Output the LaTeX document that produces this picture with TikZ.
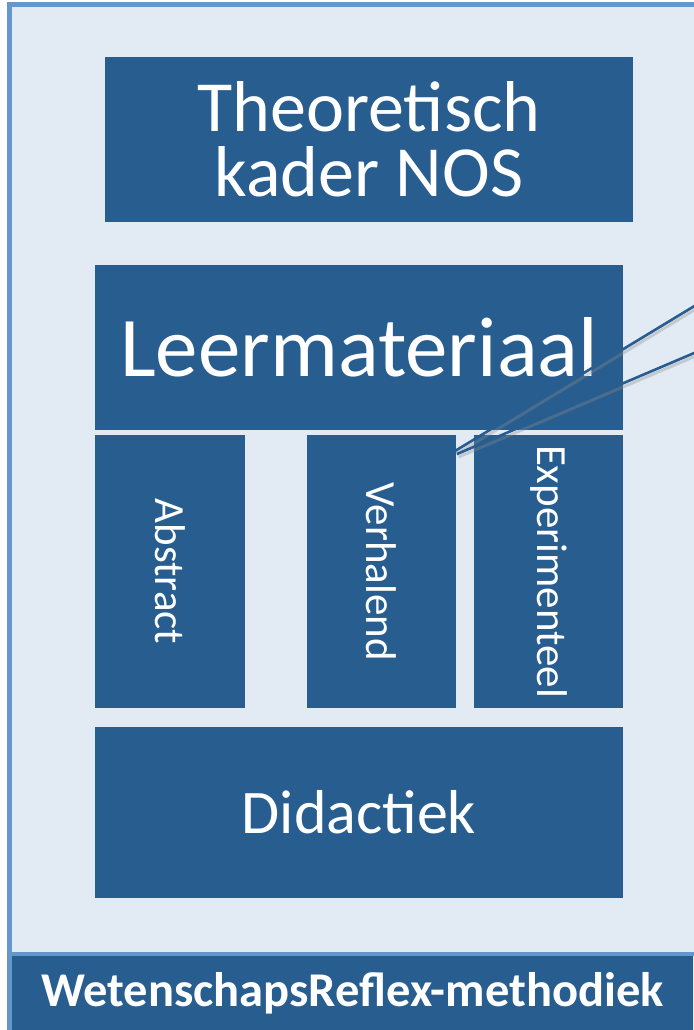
\documentclass[tikz,border=0pt]{standalone}
\usepackage{fontspec}
\setmainfont{Carlito}
\definecolor{boxblue}{HTML}{285D90}
\definecolor{bgblue}{HTML}{E2EAF4}
\definecolor{rimblue}{HTML}{6498CC}
\tikzset{
  blok/.style={fill=boxblue, draw=none, inner sep=0pt, text=white, align=center},
  lijn/.style={draw=boxblue, line width=2.6pt},
  schaduw/.style={draw=black!45, line width=3pt, opacity=0.35},
}
\begin{document}
\begin{tikzpicture}[x=1pt,y=-1pt]
\useasboundingbox (0,0) rectangle (693,1030);
% background frame
\fill[white] (0,0) rectangle (693,1030);
\fill[bgblue] (7,2) rectangle (700,1040);
\draw[rimblue, line width=5pt] (9.5,1040) -- (9.5,4.5) -- (700,4.5);
% boxes
\node[blok, minimum width=528pt, minimum height=165pt, font=\fontsize{72}{67}\selectfont] (theo) at (369,139.5) {Theoretisch\\[-2pt]kader NOS};
\node[blok, minimum width=528pt, minimum height=165pt, font=\fontsize{85}{90}\selectfont] (leer) at (359,347.5) {Leermateriaal};
\node[blok, rotate=-90, minimum width=273pt, minimum height=150pt, font=\fontsize{43}{48}\selectfont] (abs) at (170,571.5) {Abstract};
\node[blok, rotate=-90, minimum width=273pt, minimum height=149pt, font=\fontsize{43}{48}\selectfont] (verh) at (381.5,571.5) {Verhalend};
\node[blok, rotate=-90, minimum width=273pt, minimum height=149pt, font=\fontsize{43}{48}\selectfont] (exp) at (548.5,571.5) {Experimenteel};
\node[blok, minimum width=528pt, minimum height=171pt, font=\fontsize{62}{64}\selectfont] (did) at (359,812.5) {Didactiek};
% bottom bar
\draw[rimblue, line width=4pt] (10,954) -- (700,954);
\node[blok, minimum width=681pt, minimum height=74pt, font=\bfseries\fontsize{48.5}{52}\selectfont] (bar) at (352.5,993) {WetenschapsReflex-methodiek};
% connector lines
\coordinate (e1) at (720,290.5);
\coordinate (e2) at (720,342);
\coordinate (p1) at (455,451);
\coordinate (p2) at (457,454);
\draw[schaduw] ([shift={(1.5,3)}]p1) -- ([shift={(1.5,3)}]e1);
\draw[schaduw] ([shift={(1.5,3)}]p2) -- ([shift={(1.5,3)}]e2);
\draw[lijn] (p1) -- (e1);
\draw[lijn] (p2) -- (e2);
\end{tikzpicture}
\end{document}
